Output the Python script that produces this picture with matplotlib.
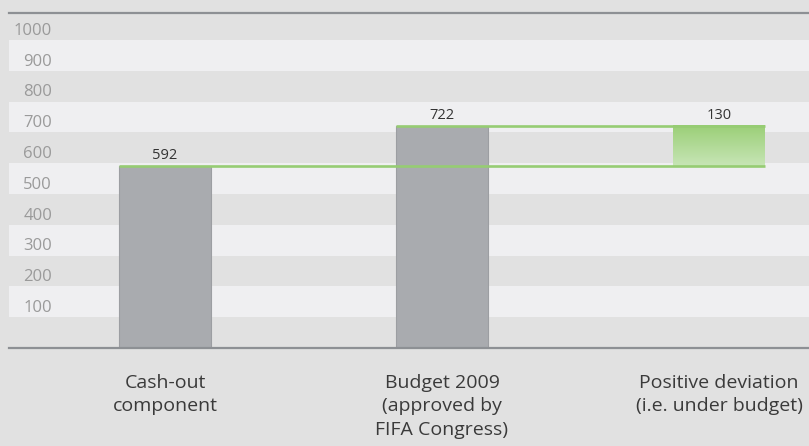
import matplotlib
matplotlib.use("Agg")
import matplotlib.pyplot as plt
import numpy as np
from matplotlib.colors import LinearSegmentedColormap

categories = ["Cash-out\ncomponent", "Budget 2009\n(approved by\nFIFA Congress)", "Positive deviation\n(i.e. under budget)"]
values = [592, 722, 130]
ticks = [100, 200, 300, 400, 500, 600, 700, 800, 900, 1000]

plt.rcParams['font.family'] = ['Open Sans', 'DejaVu Sans']

BG = "#e1e1e1"
BAND = "#efeff1"
BAR = "#a9abaf"
GREEN = "#96cc73"

fig = plt.figure(figsize=(8.09, 4.46), dpi=100, facecolor=BG)
ax = fig.add_axes([9/809, 1-348/446, 800/809, (348-12.7)/446])
ax.set_facecolor(BG)

# alternating bands
for v in range(100, 1000, 200):
    ax.axhspan(v, v + 100, color=BAND, lw=0, zorder=0)

w = 0.332
x = np.arange(len(categories))
# gray bars
ax.bar(x[0], values[0], width=w, color=BAR, edgecolor="#9c9ea2", lw=0.8, zorder=2)
ax.bar(x[1], values[1], width=w, color=BAR, edgecolor="#9c9ea2", lw=0.8, zorder=2)

# green gradient deviation bar
base = values[0]
top = values[0] + values[2]
grad = np.linspace(0, 1, 256).reshape(-1, 1)
cmap = LinearSegmentedColormap.from_list("g", ["#c7e5b6", "#9bcf77"])
ax.imshow(grad, extent=[x[2]-w/2, x[2]+w/2, base, top], origin="lower",
          cmap=cmap, aspect="auto", zorder=2)
ax.set_xlim(-0.563, 2.325)
ax.set_ylim(0, 1089)

# connector lines
ax.hlines(values[0], x[0]-w/2, x[2]+w/2, color=GREEN, lw=1.9, zorder=3)
ax.hlines(values[1], x[1]-w/2, x[2]+w/2, color=GREEN, lw=1.9, zorder=3)

# value labels
lab_y = [values[0], values[1], top]
for xi, yv, v in zip(x, lab_y, values):
    ax.text(xi, yv + 10, str(v), ha="center", va="bottom", fontsize=10.5, color="#333333")

# y tick labels (placed inside bands)
xl = -0.563 + (52 - 9) / 277
for t in ticks:
    ax.text(xl, t + 30, str(t), ha="right", va="center",
            fontsize=12, color="#9a9a9a")

# frame
for s in ["left", "right"]:
    ax.spines[s].set_visible(False)
for s in ["top", "bottom"]:
    ax.spines[s].set_color("#8d9094")
    ax.spines[s].set_linewidth(1.6)
ax.set_xticks([])
ax.set_yticks([])

# category labels
for xi, c in zip(x, categories):
    ax.text(xi, -84, c, ha="center", va="top", fontsize=14, color="#3a3a3a",
            linespacing=1.40, clip_on=False)

fig.savefig("out.png", dpi=100, facecolor=BG)
